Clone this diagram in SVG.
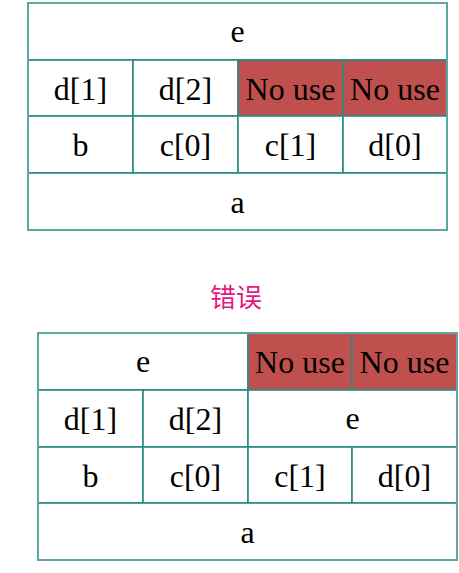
<svg xmlns="http://www.w3.org/2000/svg" width="459" height="573" viewBox="0 0 459 573">
<style>
.c{fill:#ffffff;stroke:#2a8a82;stroke-width:1.6}
.r{fill:#c0504d;stroke:#2a8a82;stroke-width:1.6}
.o{fill:none;stroke:#5aa8a0;stroke-width:2}
.t{font-family:'Liberation Serif',serif;font-size:32px;fill:#000000;text-anchor:middle}
.cn{font-family:'Noto Sans CJK SC',sans-serif;font-size:26px;fill:#e8177f;text-anchor:middle}
</style>
<g id="table1">
<g id="t1-e"><rect class="c" x="28" y="3" width="419" height="57"/><text class="t" x="237.5" y="42">e</text></g>
<g id="t1-d1"><rect class="c" x="28" y="60" width="105" height="56"/><text class="t" x="80.5" y="100">d[1]</text></g>
<g id="t1-d2"><rect class="c" x="133" y="60" width="105" height="56"/><text class="t" x="185.5" y="100">d[2]</text></g>
<g id="t1-nu1"><rect class="r" x="238" y="60" width="105" height="56"/><text class="t" x="290.5" y="100">No use</text></g>
<g id="t1-nu2"><rect class="r" x="343" y="60" width="104" height="56"/><text class="t" x="395" y="100">No use</text></g>
<g id="t1-b"><rect class="c" x="28" y="116" width="105" height="57"/><text class="t" x="80.5" y="156">b</text></g>
<g id="t1-c0"><rect class="c" x="133" y="116" width="105" height="57"/><text class="t" x="185.5" y="156">c[0]</text></g>
<g id="t1-c1"><rect class="c" x="238" y="116" width="105" height="57"/><text class="t" x="290.5" y="156">c[1]</text></g>
<g id="t1-d0"><rect class="c" x="343" y="116" width="104" height="57"/><text class="t" x="395" y="156">d[0]</text></g>
<g id="t1-a"><rect class="c" x="28" y="173" width="419" height="57"/><text class="t" x="237.5" y="213">a</text></g>
<rect class="o" x="28" y="3" width="419" height="227"/>
</g>
<g id="label"><text class="cn" x="236" y="307">错误</text></g>
<g id="table2">
<g id="t2-e"><rect class="c" x="38" y="333" width="210" height="57"/><text class="t" x="143" y="372">e</text></g>
<g id="t2-nu1"><rect class="r" x="248" y="333" width="104" height="57"/><text class="t" x="300" y="373">No use</text></g>
<g id="t2-nu2"><rect class="r" x="352" y="333" width="105" height="57"/><text class="t" x="404.5" y="373">No use</text></g>
<g id="t2-d1"><rect class="c" x="38" y="390" width="105" height="57"/><text class="t" x="90.5" y="430">d[1]</text></g>
<g id="t2-d2"><rect class="c" x="143" y="390" width="105" height="57"/><text class="t" x="195.5" y="430">d[2]</text></g>
<g id="t2-e2"><rect class="c" x="248" y="390" width="209" height="57"/><text class="t" x="352.5" y="429">e</text></g>
<g id="t2-b"><rect class="c" x="38" y="447" width="105" height="56"/><text class="t" x="90.5" y="487">b</text></g>
<g id="t2-c0"><rect class="c" x="143" y="447" width="105" height="56"/><text class="t" x="195.5" y="487">c[0]</text></g>
<g id="t2-c1"><rect class="c" x="248" y="447" width="104" height="56"/><text class="t" x="300" y="487">c[1]</text></g>
<g id="t2-d0"><rect class="c" x="352" y="447" width="105" height="56"/><text class="t" x="404.5" y="487">d[0]</text></g>
<g id="t2-a"><rect class="c" x="38" y="503" width="419" height="57"/><text class="t" x="247.5" y="543">a</text></g>
<rect class="o" x="38" y="333" width="419" height="227"/>
</g>
<g id="connectors"/>
</svg>
